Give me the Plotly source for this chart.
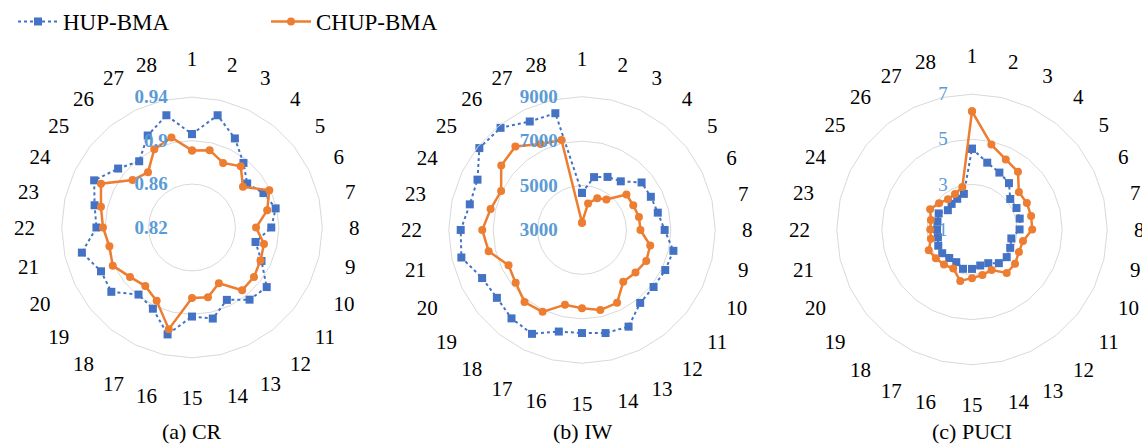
import plotly.graph_objects as go

categories = [str(i) for i in range(1, 29)]

cr_hup = [0.906, 0.926, 0.911, 0.896, 0.885, 0.893, 0.899, 0.893, 0.880, 0.891,
          0.908, 0.905, 0.894, 0.906, 0.902, 0.921, 0.903, 0.899, 0.915, 0.913,
          0.924, 0.908, 0.912, 0.920, 0.907, 0.898, 0.914, 0.926]
cr_chup = [0.891, 0.893, 0.886, 0.892, 0.880, 0.899, 0.891, 0.879, 0.888, 0.890,
           0.893, 0.894, 0.877, 0.886, 0.885, 0.916, 0.895, 0.889, 0.893, 0.901,
           0.898, 0.902, 0.906, 0.913, 0.890, 0.885, 0.900, 0.905]

iw_hup = [4670, 5440, 5650, 5800, 6430, 6440, 6500, 6720, 7220, 7160,
          7120, 7200, 7830, 7760, 7640, 7690, 8190, 8090, 7900, 7990,
          8570, 8460, 8180, 8220, 8910, 8880, 8420, 8390]
iw_chup = [3330, 4220, 4580, 4760, 5560, 5560, 5630, 5630, 6150, 6210,
           6080, 5980, 6640, 6700, 6520, 6450, 7090, 7150, 6820, 6670,
           7310, 7490, 7220, 7040, 7650, 7810, 7290, 7150]

puci_hup = [4.58, 4.04, 3.80, 3.63, 3.17, 3.19, 3.17, 3.11, 2.79, 2.88,
            2.97, 2.91, 2.66, 2.64, 2.75, 2.79, 2.61, 2.62, 2.69, 2.66,
            2.55, 2.55, 2.57, 2.64, 2.37, 2.45, 2.51, 2.62]
puci_chup = [6.24, 4.86, 4.45, 4.27, 3.66, 3.70, 3.69, 3.67, 3.32, 3.31,
             3.44, 3.47, 3.00, 3.07, 3.16, 3.34, 2.92, 2.99, 3.05, 3.13,
             2.87, 2.85, 2.87, 3.06, 2.87, 2.71, 2.74, 2.93]

cr_ticks = [0.82, 0.86, 0.90, 0.94]
cr_ticktext = ["0.82", "0.86", "0.9", "0.94"]
iw_ticks = [3000, 5000, 7000, 9000]
iw_ticktext = ["3000", "5000", "7000", "9000"]
puci_ticks = [1, 3, 5, 7]
puci_ticktext = ["1", "3", "5", "7"]

titles = ["(a) CR", "(b) IW", "(c) PUCI"]

BLUE = "#4472C4"
ORANGE = "#ED7D31"
LABEL_BLUE = "#5B9BD5"
GRID = "#D9D9D9"
FONT = "Liberation Serif"

W, H = 1142, 447


def closed(v):
    return list(v) + [v[0]]


def px(x):
    return x / W


def py(y):
    return (H - y) / H


theta_closed = categories + [categories[0]]

fig = go.Figure()

panels = [
    ("polar", cr_hup, cr_chup, cr_ticks, cr_ticktext, (192, 225.5, 131.5), True),
    ("polar2", iw_hup, iw_chup, iw_ticks, iw_ticktext, (582, 228, 134.5), True),
    ("polar3", puci_hup, puci_chup, puci_ticks, puci_ticktext, (972, 227.5, 136.5), False),
]

for i, (pname, hup, chup, ticks, ticktext, geom, bold) in enumerate(panels):
    fig.add_trace(go.Scatterpolar(
        r=closed(hup), theta=theta_closed, subplot=pname, name="HUP-BMA",
        mode="lines+markers", showlegend=(i == 0),
        line=dict(color=BLUE, width=2, dash="dot"),
        marker=dict(symbol="square", size=8, color=BLUE),
    ))
    fig.add_trace(go.Scatterpolar(
        r=closed(chup), theta=theta_closed, subplot=pname, name="CHUP-BMA",
        mode="lines+markers", showlegend=(i == 0),
        line=dict(color=ORANGE, width=2.5),
        marker=dict(symbol="circle", size=8, color=ORANGE),
    ))
    cx, cy, r = geom
    dom_x = [px(cx - r), px(cx + r)]
    dom_y = [py(cy + r), py(cy - r)]
    fig.update_layout(**{pname: dict(
        domain=dict(x=dom_x, y=dom_y),
        bgcolor="white",
        gridshape="linear",
        radialaxis=dict(
            range=[ticks[0], ticks[-1]],
            tickvals=ticks, ticktext=ticktext,
            angle=90, side="counterclockwise", tickangle=90,
            showline=False, ticks="outside", ticklen=17,
            tickcolor="rgba(0,0,0,0)",
            gridcolor=GRID, gridwidth=1,
            tickfont=dict(family=FONT, size=19, color=LABEL_BLUE,
                          weight="bold" if bold else "normal"),
        ),
        angularaxis=dict(
            type="category", categoryarray=categories,
            direction="clockwise", rotation=90,
            showgrid=False, showline=True, linecolor=GRID, linewidth=1,
            ticks="outside", ticklen=22, tickcolor="rgba(0,0,0,0)",
            tickfont=dict(family=FONT, size=21, color="black"),
        ),
    )})
    fig.add_annotation(text=titles[i], x=px(cx), y=py(431),
                       xref="paper", yref="paper", showarrow=False,
                       xanchor="center", yanchor="middle",
                       font=dict(family=FONT, size=22, color="black"))

fig.update_layout(
    width=W, height=H,
    margin=dict(l=0, r=0, t=0, b=0),
    paper_bgcolor="white",
    font=dict(family=FONT, color="black"),
    legend=dict(orientation="h", x=px(13), y=py(-4), xanchor="left", yanchor="top",
                entrywidth=198, entrywidthmode="pixels", itemwidth=40,
                font=dict(family=FONT, size=23, color="black"),
                bgcolor="rgba(0,0,0,0)"),
)

# the page's default 8px body margin would push the figure off its 1142x447 window
fig.write_html("out.html", config={"displayModeBar": False},
               post_script="document.body.style.margin='0';")
